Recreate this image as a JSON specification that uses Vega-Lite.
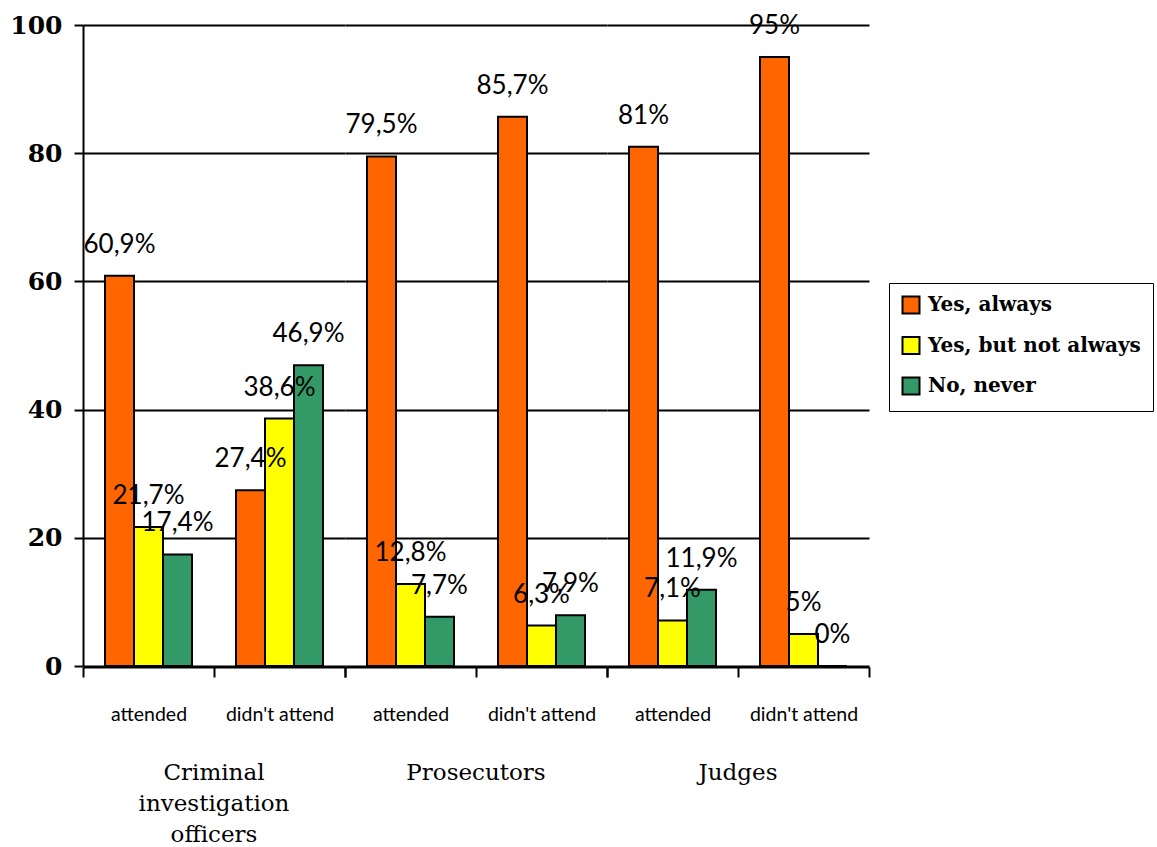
{
  "$schema": "https://vega.github.io/schema/vega-lite/v6.json",
  "padding": {"left": 9, "top": 13, "right": 0, "bottom": 0},
  "autosize": {"type": "pad"},
  "config": {"view": {"stroke": null}},
  "data": {"values": [
    {"grp": "Criminal investigation officers", "att": "attended", "series": "Yes, always", "v": 60.9},
    {"grp": "Criminal investigation officers", "att": "attended", "series": "Yes, but not always", "v": 21.7},
    {"grp": "Criminal investigation officers", "att": "attended", "series": "No, never", "v": 17.4},
    {"grp": "Criminal investigation officers", "att": "didn't attend", "series": "Yes, always", "v": 27.4},
    {"grp": "Criminal investigation officers", "att": "didn't attend", "series": "Yes, but not always", "v": 38.6},
    {"grp": "Criminal investigation officers", "att": "didn't attend", "series": "No, never", "v": 46.9},
    {"grp": "Prosecutors", "att": "attended", "series": "Yes, always", "v": 79.5},
    {"grp": "Prosecutors", "att": "attended", "series": "Yes, but not always", "v": 12.8},
    {"grp": "Prosecutors", "att": "attended", "series": "No, never", "v": 7.7},
    {"grp": "Prosecutors", "att": "didn't attend", "series": "Yes, always", "v": 85.7},
    {"grp": "Prosecutors", "att": "didn't attend", "series": "Yes, but not always", "v": 6.3},
    {"grp": "Prosecutors", "att": "didn't attend", "series": "No, never", "v": 7.9},
    {"grp": "Judges", "att": "attended", "series": "Yes, always", "v": 81},
    {"grp": "Judges", "att": "attended", "series": "Yes, but not always", "v": 7.1},
    {"grp": "Judges", "att": "attended", "series": "No, never", "v": 11.9},
    {"grp": "Judges", "att": "didn't attend", "series": "Yes, always", "v": 95},
    {"grp": "Judges", "att": "didn't attend", "series": "Yes, but not always", "v": 5},
    {"grp": "Judges", "att": "didn't attend", "series": "No, never", "v": 0}
  ]},
  "transform": [
    {"calculate": "replace(format(datum.v, '~g'), '.', ',') + '%'", "as": "lbl"}
  ],
  "facet": {
    "column": {
      "field": "grp",
      "type": "nominal",
      "sort": ["Criminal investigation officers", "Prosecutors", "Judges"],
      "header": {
        "title": null,
        "labelOrient": "bottom",
        "labelFont": "DejaVu Serif",
        "labelFontSize": 23,
        "labelColor": "black",
        "labelPadding": 38,
        "labelLineHeight": 31,
        "labelBaseline": "top",
        "labelExpr": "(datum.label) == 'Criminal investigation officers' ? ['Criminal', 'investigation', 'officers'] : (datum.label)"
      }
    }
  },
  "spacing": 0,
  "spec": {
    "width": 262,
    "height": 641,
    "encoding": {
      "x": {
        "field": "att",
        "type": "nominal",
        "sort": ["attended", "didn't attend"],
        "scale": {"paddingInner": 0, "paddingOuter": 0},
        "axis": {
          "title": null,
          "labelAngle": 0,
          "tickBand": "extent",
          "tickSize": 10,
          "tickWidth": 2,
          "tickColor": "black",
          "domainColor": "black",
          "domainWidth": 2,
          "labelFont": "Lato",
          "labelFontSize": 19.5,
          "labelColor": "black",
          "labelPadding": 28,
          "grid": false
        }
      },
      "xOffset": {
        "field": "series",
        "type": "nominal",
        "sort": ["Yes, always", "Yes, but not always", "No, never"],
        "scale": {"paddingInner": 0, "paddingOuter": 0.759}
      },
      "y": {
        "field": "v",
        "type": "quantitative",
        "scale": {"domain": [0, 100], "nice": false},
        "axis": {
          "title": null,
          "values": [0, 20, 40, 60, 80, 100],
          "tickSize": 9,
          "tickWidth": 2,
          "tickColor": "black",
          "domainColor": "black",
          "domainWidth": 2,
          "gridColor": "black",
          "gridWidth": 2,
          "gridOpacity": 1,
          "labelFont": "DejaVu Serif",
          "labelFontWeight": "bold",
          "labelFontSize": 25,
          "labelColor": "black",
          "labelPadding": 12
        }
      }
    },
    "layer": [
      {
        "mark": {"type": "bar", "stroke": "black", "strokeWidth": 2},
        "encoding": {
          "color": {
            "field": "series",
            "type": "nominal",
            "sort": ["Yes, always", "Yes, but not always", "No, never"],
            "scale": {"domain": ["Yes, always", "Yes, but not always", "No, never"], "range": ["#FF6600", "#FFFF00", "#339966"]},
            "legend": {
              "orient": "none",
              "legendX": 806,
              "legendY": 258,
              "title": null,
              "symbolType": "square",
              "symbolSize": 289,
              "symbolStrokeColor": "black",
              "symbolStrokeWidth": 2,
              "symbolOpacity": 1,
              "labelFont": "DejaVu Serif",
              "labelFontWeight": "bold",
              "labelFontSize": 20,
              "labelColor": "black",
              "labelOffset": 7,
              "labelLimit": 0,
              "rowPadding": 14.5,
              "padding": 12,
              "strokeColor": "black"
            }
          }
        }
      },
      {
        "mark": {"type": "text", "font": "Lato", "fontSize": 26, "dy": -31, "baseline": "middle", "color": "black"},
        "encoding": {"text": {"field": "lbl", "type": "nominal"}}
      }
    ]
  }
}
